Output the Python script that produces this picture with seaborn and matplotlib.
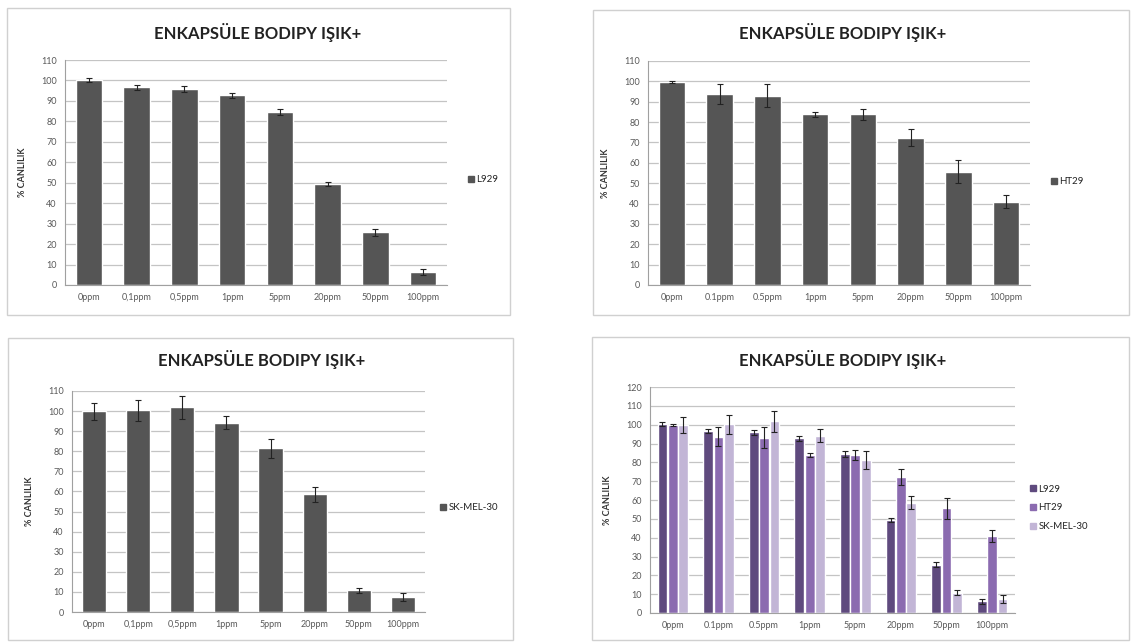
"""
ENKAPSÜLE BODIPY IŞIK+ : hücre canlılığı, dört panel.
"""
import pandas as pd
import matplotlib
matplotlib.use('Agg')
import matplotlib.pyplot as plt
from matplotlib.patches import Patch, Rectangle
import seaborn as sns

DOZLAR = ['0ppm', '0,1ppm', '0,5ppm', '1ppm', '5ppm', '20ppm', '50ppm', '100ppm']
DOZLAR_NOKTA = ['0ppm', '0.1ppm', '0.5ppm', '1ppm', '5ppm', '20ppm', '50ppm', '100ppm']

L929 = [100.2, 96.6, 95.9, 92.8, 84.4, 49.5, 25.7, 6.2]
L929_HATA = [1.1, 1.1, 1.3, 1.3, 1.5, 1.1, 1.5, 1.4]

HT29 = [99.8, 93.6, 93.0, 83.8, 83.8, 72.3, 55.6, 40.9]
HT29_HATA = [0.4, 4.9, 5.5, 1.2, 2.6, 4.1, 5.7, 3.3]

SKMEL30 = [99.8, 100.3, 101.8, 94.2, 81.4, 58.6, 10.8, 7.3]
SKMEL30_HATA = [4.3, 5.0, 5.6, 3.3, 4.8, 3.6, 1.2, 2.0]

TITLE = 'ENKAPSÜLE BODIPY IŞIK+'
YLABEL = '% CANLILIK'

GRAY_BAR = '#555555'
PURPLES = ['#5f4a7e', '#8b6bb0', '#c2b5d6']
GRID = '#c4c4c4'
TEXT = '#595959'

W, H = 1131, 642


def px_axes(fig, left, right, top, bottom):
    return fig.add_axes([left / W, 1 - bottom / H, (right - left) / W, (bottom - top) / H])


def px_box(fig, left, right, top, bottom):
    fig.patches.append(Rectangle(
        (left / W, 1 - bottom / H), (right - left) / W, (bottom - top) / H,
        transform=fig.transFigure, fill=False, edgecolor='#d0d0d0', linewidth=1.0
    ))


def style_axes(ax, ymax, labels):
    ax.set_ylim(0, ymax)
    ax.set_yticks(range(0, ymax + 1, 10))
    ax.set_xlim(-0.5, len(labels) - 0.5)
    ax.set_xticks(range(len(labels)))
    ax.set_xticklabels(labels)
    ax.tick_params(axis='x', length=0, labelsize=6.5, labelcolor=TEXT, pad=6)
    ax.tick_params(axis='y', length=3, color='#a0a0a0', labelsize=6.5, labelcolor=TEXT, pad=3)
    # small Excel-like ticks between categories
    ax.set_xticks([i + 0.5 for i in range(len(labels) - 1)], minor=True)
    ax.tick_params(axis='x', which='minor', length=3, color='#a0a0a0')
    ax.grid(axis='y', color=GRID, linewidth=0.9)
    ax.grid(axis='x', visible=False)
    ax.set_axisbelow(True)
    for side in ['top', 'right']:
        ax.spines[side].set_visible(False)
    ax.spines['left'].set_color('#a0a0a0')
    ax.spines['bottom'].set_color('#a0a0a0')
    ax.spines['left'].set_linewidth(0.8)
    ax.spines['bottom'].set_linewidth(0.8)
    ax.set_xlabel('')
    ax.set_ylabel(YLABEL, fontsize=6.5, fontweight='bold', color='#333333', labelpad=10)


def add_errors(ax, container, errors):
    xs = [b.get_x() + b.get_width() / 2 for b in container]
    ys = [b.get_height() for b in container]
    ax.errorbar(xs, ys, yerr=errors, fmt='none', ecolor='#222222',
                elinewidth=0.8, capsize=2, capthick=0.8, zorder=5)


def single_panel(fig, box, rect, values, errors, labels, name, legend_xy, title_xy):
    px_box(fig, *box)
    ax = px_axes(fig, *rect)
    data = pd.DataFrame({'doz': labels, 'canlilik': values})
    sns.barplot(data=data, x='doz', y='canlilik', color=GRAY_BAR, width=0.55,
                errorbar=None, saturation=1, ax=ax)
    add_errors(ax, ax.containers[0], errors)
    style_axes(ax, 110, labels)
    fig.text(title_xy[0] / W, 1 - title_xy[1] / H, TITLE, ha='center', va='center',
             fontsize=12, fontweight='bold', color='#222222')
    ax.legend(handles=[Patch(color=GRAY_BAR)], labels=[name], frameon=False,
              loc='center left', bbox_to_anchor=(legend_xy[0] / W, 1 - legend_xy[1] / H),
              bbox_transform=fig.transFigure, handlelength=0.6, handleheight=0.6,
              handletextpad=0.3, borderpad=0, fontsize=7, labelcolor='#222222')
    return ax


def combined_panel(fig, box, rect, legend_xy, title_xy):
    px_box(fig, *box)
    ax = px_axes(fig, *rect)
    names = ['L929', 'HT29', 'SK-MEL-30']
    series = [L929, HT29, SKMEL30]
    errs = [L929_HATA, HT29_HATA, SKMEL30_HATA]
    frames = [pd.DataFrame({'doz': DOZLAR_NOKTA, 'canlilik': s, 'hucre': n})
              for s, n in zip(series, names)]
    data = pd.concat(frames, ignore_index=True)
    sns.barplot(data=data, x='doz', y='canlilik', hue='hucre', palette=PURPLES,
                width=0.68, gap=0.06, errorbar=None, saturation=1, ax=ax, legend=False)
    for container, e in zip(ax.containers, errs):
        add_errors(ax, container, e)
    style_axes(ax, 120, DOZLAR_NOKTA)
    fig.text(title_xy[0] / W, 1 - title_xy[1] / H, TITLE, ha='center', va='center',
             fontsize=12, fontweight='bold', color='#222222')
    ax.legend(handles=[Patch(color=c) for c in PURPLES], labels=names, frameon=False,
              loc='center left', bbox_to_anchor=(legend_xy[0] / W, 1 - legend_xy[1] / H),
              bbox_transform=fig.transFigure, handlelength=0.6, handleheight=0.6,
              handletextpad=0.3, labelspacing=1.0, borderpad=0, fontsize=7,
              labelcolor='#222222')
    return ax


if __name__ == '__main__':

    sns.set_theme(style='white')
    plt.rcParams['font.family'] = ['Lato', 'DejaVu Sans']

    fig = plt.figure(figsize=(W / 100, H / 100), dpi=100)
    fig.patch.set_facecolor('white')

    single_panel(fig, (7, 510, 8, 315), (65, 447, 60, 285), L929, L929_HATA,
                 DOZLAR, 'L929', (463, 180), (258, 33))
    single_panel(fig, (593, 1129, 10, 315), (648, 1030, 61, 285), HT29, HT29_HATA,
                 DOZLAR_NOKTA, 'HT29', (1046, 182), (843, 33))
    single_panel(fig, (8, 513, 338, 640), (72, 425, 391, 612), SKMEL30, SKMEL30_HATA,
                 DOZLAR, 'SK-MEL-30', (435, 508), (262, 360))
    combined_panel(fig, (592, 1129, 337, 640), (650, 1015, 387, 613), (1025, 508), (843, 360))

    plt.savefig('out.png', dpi=100)
